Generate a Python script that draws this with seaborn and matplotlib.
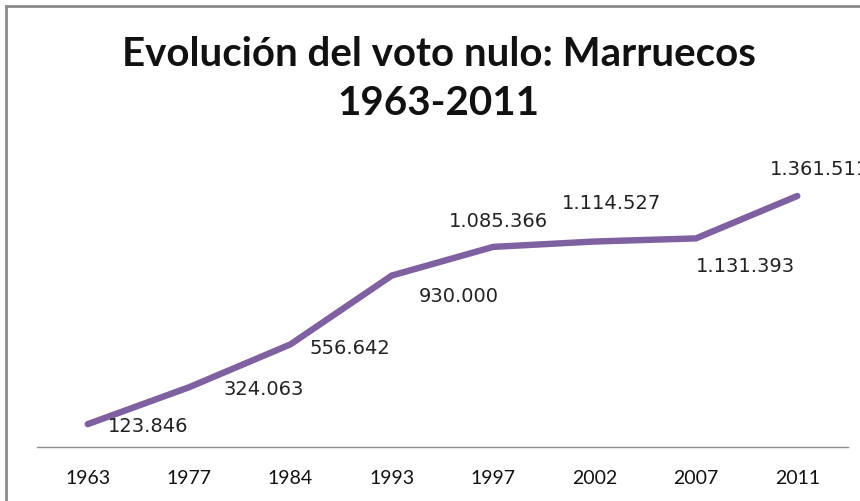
import pandas as pd
import matplotlib
matplotlib.use("Agg")
import matplotlib.pyplot as plt
import seaborn as sns
from matplotlib.patches import Rectangle

# datos
years = ["1963", "1977", "1984", "1993", "1997", "2002", "2007", "2011"]
votos_nulos = [123846, 324063, 556642, 930000, 1085366, 1114527, 1131393, 1361511]
etiquetas = ["123.846", "324.063", "556.642", "930.000",
             "1.085.366", "1.114.527", "1.131.393", "1.361.511"]
# desplazamiento de cada etiqueta respecto a su punto (pixeles)
label_dx = [60, 75, 59, 67, 5, 17, 50, 22]
label_dy = [-1, -1, -3, -20, 26, 39, -27, 27]

sns.set_theme(style="white")
plt.rcParams["font.family"] = ["DejaVu Sans"]

df = pd.DataFrame({"anio": years, "votos": votos_nulos})

fig = plt.figure(figsize=(8.6, 5.02), dpi=100)
ax = fig.add_axes([37 / 860, 54 / 502, 811 / 860, 295 / 502])

sns.lineplot(data=df, x="anio", y="votos", ax=ax, color="#7F60A1",
             linewidth=4.6, solid_capstyle="round", solid_joinstyle="round")

for i, (v, t) in enumerate(zip(votos_nulos, etiquetas)):
    ax.annotate(t, (i, v), xytext=(label_dx[i], label_dy[i]),
                textcoords="offset pixels", ha="center", va="center",
                fontsize=14, color="#222222", annotation_clip=False,
                clip_on=False)

ax.set_xlim(-0.5, len(years) - 0.5)
ax.set_ylim(0, 1600000)
ax.set_xlabel("")
ax.set_ylabel("")
ax.set_yticks([])
for s in ["top", "right", "left"]:
    ax.spines[s].set_visible(False)
ax.spines["bottom"].set_color("#8c8c8c")
ax.spines["bottom"].set_linewidth(1.0)
ax.tick_params(axis="x", length=0, pad=16)
for lab in ax.get_xticklabels():
    lab.set_fontfamily(["Lato", "DejaVu Sans"])
    lab.set_fontsize(14)
    lab.set_color("#111111")

fig.text(0.51, 0.843, "Evolución del voto nulo: Marruecos\n1963-2011",
         ha="center", va="center", fontsize=29, fontweight="bold",
         family=["Lato", "DejaVu Sans"], linespacing=1.42, color="#111111")

# marco del grafico
fig.patches.append(Rectangle((6 / 860, -0.1), 1.2, 1 - 7 / 502 + 0.1,
                             transform=fig.transFigure, fill=False,
                             edgecolor="#8a8a8a", linewidth=2))

fig.savefig("out.png", dpi=100)
